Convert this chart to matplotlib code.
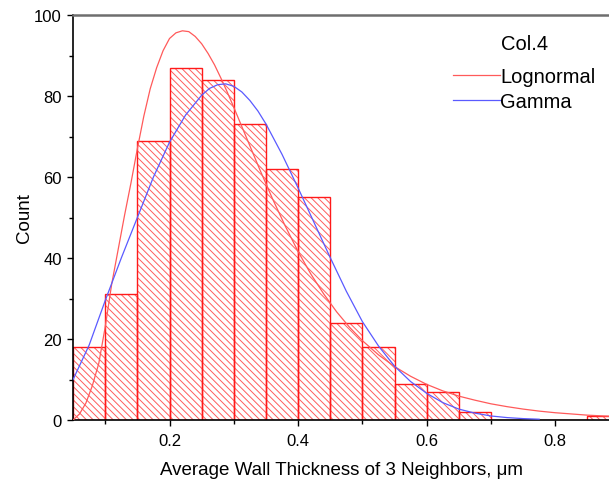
import matplotlib
matplotlib.use("Agg")
import matplotlib.pyplot as plt
from matplotlib.ticker import MultipleLocator

plt.rcParams['font.family'] = ['Liberation Sans', 'DejaVu Sans']
plt.rcParams['hatch.linewidth'] = 0.7

# histogram bins (left edges) and counts
bin_left = [0.05, 0.10, 0.15, 0.20, 0.25, 0.30, 0.35, 0.40, 0.45,
            0.50, 0.55, 0.60, 0.65, 0.70, 0.75, 0.80, 0.85]
counts = [18, 31, 69, 87, 84, 73, 62, 55, 24, 18, 9, 7, 2, 0, 0, 0, 1]
bin_width = 0.05

# fitted curves
logn_x = [0.05, 0.06, 0.07, 0.08, 0.09, 0.10, 0.11, 0.12, 0.13, 0.14,
          0.15, 0.16, 0.17, 0.18, 0.19, 0.20, 0.21, 0.22, 0.23, 0.24,
          0.25, 0.26, 0.27, 0.28, 0.29, 0.30, 0.32, 0.34, 0.36, 0.38,
          0.40, 0.42, 0.44, 0.46, 0.48, 0.50, 0.525, 0.55, 0.575, 0.60,
          0.625, 0.65, 0.675, 0.70, 0.725, 0.75, 0.775, 0.80, 0.825, 0.85,
          0.875, 0.90]
logn_y = [0.0, 1.5, 4.2, 8.5, 14.0, 23.0, 33.5, 42.0, 50.5, 58.5,
          67.0, 75.0, 81.8, 87.0, 91.2, 94.2, 95.6, 96.1, 95.9, 94.7,
          92.9, 90.5, 87.7, 84.4, 80.9, 77.2, 69.6, 62.0, 54.7, 47.9,
          41.6, 36.0, 31.1, 26.7, 22.9, 19.6, 16.1, 13.2, 10.8, 8.8,
          7.2, 5.9, 4.9, 4.0, 3.3, 2.7, 2.2, 1.8, 1.5, 1.2,
          1.0, 0.85]

gamma_x = [0.05, 0.075, 0.10, 0.125, 0.15, 0.175, 0.20, 0.225, 0.25, 0.2625,
           0.275, 0.2875, 0.30, 0.3125, 0.325, 0.3375, 0.35, 0.375, 0.40, 0.425,
           0.45, 0.475, 0.50, 0.525, 0.55, 0.575, 0.60, 0.625, 0.65, 0.675,
           0.70, 0.725, 0.75, 0.775]
gamma_y = [10.0, 18.5, 29.5, 40.0, 50.0, 60.0, 68.6, 75.3, 80.2, 81.9,
           82.8, 83.0, 82.4, 81.0, 78.9, 76.3, 73.1, 65.6, 57.3, 48.7,
           40.1, 31.8, 24.3, 18.3, 13.3, 9.5, 6.6, 4.3, 2.7, 1.7,
           1.0, 0.6, 0.35, 0.2]

fig = plt.figure(figsize=(6.09, 4.81), dpi=100)
ax = fig.add_axes([0.120, 0.1247, 0.880, 0.842])

# hatch fill (lighter) then the bar outlines
ax.bar(bin_left, counts, width=bin_width, align='edge', fill=False,
       edgecolor='#ff5c5c', linewidth=0, hatch='\\\\\\\\\\', zorder=2)
ax.bar(bin_left, counts, width=bin_width, align='edge', fill=False,
       edgecolor='#ff1a1a', linewidth=1.0, zorder=2)

ax.plot(logn_x, logn_y, color='#ff5a5a', linewidth=0.9, label='Lognormal', zorder=3)
ax.plot(gamma_x, gamma_y, color='#5a5aff', linewidth=0.9, label='Gamma', zorder=3)

ax.set_xlim(0.05, 0.8836)
ax.set_ylim(0, 100)
ax.xaxis.set_major_locator(MultipleLocator(0.2))
ax.xaxis.set_minor_locator(MultipleLocator(0.1))
ax.yaxis.set_major_locator(MultipleLocator(20))
ax.yaxis.set_minor_locator(MultipleLocator(10))
ax.tick_params(which='major', direction='out', length=4.5, width=1.0,
               labelsize=12, colors='black')
ax.tick_params(which='minor', direction='out', length=3, width=1.0)
ax.tick_params(axis='x', pad=5)

ax.spines['right'].set_visible(False)
ax.spines['top'].set_color('#6e6e6e')
ax.spines['top'].set_linewidth(1.8)
ax.spines['left'].set_linewidth(1.2)
ax.spines['bottom'].set_linewidth(1.2)

ax.set_xlabel('Average Wall Thickness of 3 Neighbors, \u03bcm', fontsize=13.5, labelpad=9)
ax.set_ylabel('Count', fontsize=13.5, labelpad=1)

leg = ax.legend(title='Col.4', loc='upper left', bbox_to_anchor=(0.709, 0.953),
                frameon=False, fontsize=14.5, title_fontsize=14.5,
                handlelength=2.35, handletextpad=0.0, labelspacing=0.3,
                borderpad=0.0, borderaxespad=0.0)
leg._legend_box.sep = 10

fig.savefig('out.png', dpi=100)
